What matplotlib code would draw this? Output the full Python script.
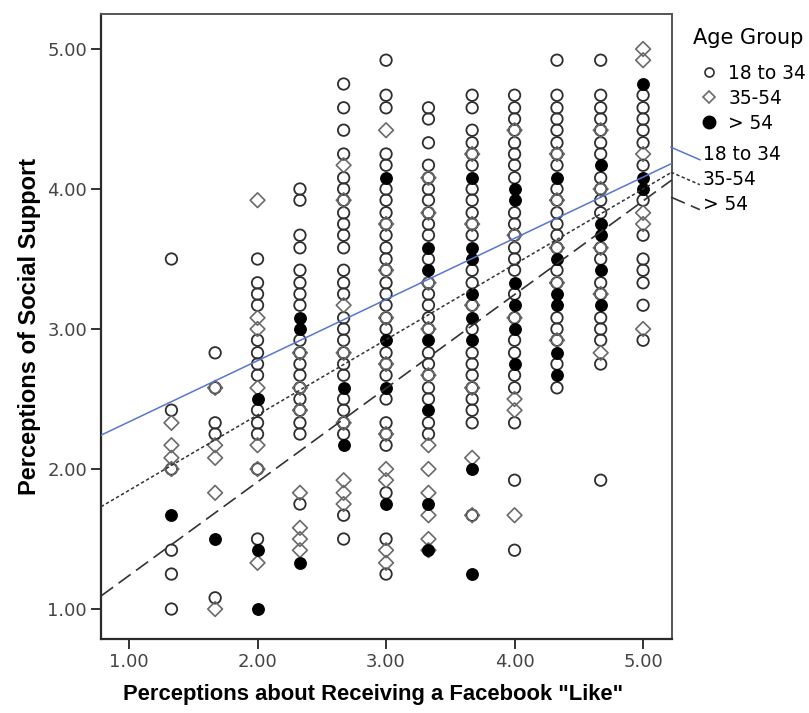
import matplotlib
matplotlib.use("Agg")
import matplotlib.pyplot as plt
from matplotlib.lines import Line2D
from matplotlib.legend_handler import HandlerLine2D

# scale scores (means of items) for each response level
x_levels = [1.33, 1.67, 2.00, 2.33, 2.67, 3.00, 3.33, 3.67, 4.00, 4.33, 4.67, 5.00]

# social support scores per x level, age 18 to 34
young_y = [
    [3.50, 2.42, 2.00, 1.42, 1.25, 1.00],
    [2.83, 2.58, 2.33, 2.25, 1.08],
    [3.50, 3.33, 3.25, 3.17, 2.92, 2.83, 2.75, 2.67, 2.42, 2.33, 2.25, 2.00, 1.50],
    [4.00, 3.92, 3.67, 3.58, 3.42, 3.33, 3.25, 3.17, 2.92, 2.83, 2.75, 2.67, 2.58,
     2.50, 2.42, 2.33, 2.25, 1.75],
    [4.75, 4.58, 4.42, 4.25, 4.08, 4.00, 3.92, 3.83, 3.75, 3.67, 3.58, 3.42, 3.33,
     3.25, 3.08, 3.00, 2.92, 2.83, 2.75, 2.67, 2.50, 2.42, 2.33, 2.25, 1.67, 1.50],
    [4.92, 4.67, 4.58, 4.25, 4.17, 4.00, 3.92, 3.83, 3.75, 3.67, 3.58, 3.50, 3.42,
     3.33, 3.25, 3.17, 3.08, 3.00, 2.83, 2.75, 2.67, 2.50, 2.33, 2.25, 2.17, 1.83,
     1.50, 1.25],
    [4.58, 4.50, 4.33, 4.17, 4.08, 4.00, 3.92, 3.83, 3.75, 3.67, 3.50, 3.33, 3.25,
     3.17, 3.08, 3.00, 2.83, 2.75, 2.67, 2.58, 2.50, 2.33, 2.25],
    [4.67, 4.58, 4.42, 4.33, 4.25, 4.17, 4.00, 3.92, 3.83, 3.75, 3.67, 3.42, 3.33,
     3.17, 3.00, 2.83, 2.75, 2.67, 2.58, 2.50, 2.42, 2.33, 1.67],
    [4.67, 4.58, 4.50, 4.42, 4.33, 4.25, 4.17, 4.08, 3.83, 3.75, 3.67, 3.58, 3.50,
     3.42, 3.25, 3.08, 2.92, 2.83, 2.67, 2.58, 2.33, 1.92, 1.42],
    [4.92, 4.67, 4.58, 4.50, 4.42, 4.33, 4.25, 4.17, 4.00, 3.92, 3.83, 3.75, 3.67,
     3.58, 3.42, 3.33, 3.08, 3.00, 2.92, 2.75, 2.58],
    [4.92, 4.67, 4.58, 4.50, 4.42, 4.33, 4.25, 4.08, 4.00, 3.92, 3.83, 3.58, 3.50,
     3.33, 3.25, 3.08, 3.00, 2.92, 2.75, 1.92],
    [4.67, 4.58, 4.50, 4.42, 4.33, 4.17, 3.92, 3.67, 3.50, 3.42, 3.33, 3.17, 2.92],
]

# age 35-54
middle_y = [
    [2.33, 2.17, 2.08, 2.00],
    [2.58, 2.17, 2.08, 1.83, 1.00],
    [3.92, 3.08, 3.00, 2.58, 2.17, 2.00, 1.33],
    [2.83, 2.58, 2.42, 1.83, 1.58, 1.50, 1.42],
    [4.17, 3.92, 3.17, 2.83, 2.33, 1.92, 1.83, 1.75],
    [4.42, 3.75, 3.42, 3.08, 2.75, 2.25, 2.00, 1.92, 1.42, 1.33],
    [4.08, 3.83, 3.33, 3.00, 2.67, 2.17, 2.00, 1.83, 1.67, 1.50, 1.42],
    [4.25, 3.75, 3.17, 2.58, 2.08, 1.67],
    [4.42, 3.67, 3.08, 2.50, 2.42, 1.67],
    [4.25, 3.92, 3.58, 3.33, 2.92],
    [4.42, 4.00, 3.58, 3.25, 2.83],
    [5.00, 4.92, 4.25, 3.83, 3.75, 3.00],
]

# age over 54
older_y = [
    [1.67],
    [1.50],
    [2.50, 1.42, 1.00],
    [3.08, 3.00, 1.33],
    [2.58, 2.17],
    [4.08, 2.92, 2.58, 1.75],
    [3.58, 3.42, 2.92, 2.42, 1.75, 1.42],
    [4.08, 3.58, 3.50, 3.25, 3.08, 2.92, 2.00, 1.25],
    [4.00, 3.92, 3.33, 3.17, 3.00, 2.75],
    [4.08, 3.50, 3.25, 3.17, 2.83, 2.67],
    [4.17, 3.75, 3.67, 3.42, 3.17],
    [4.75, 4.08, 4.00],
]

# linear fit per group: intercept, slope
fit_intercept = [1.90, 1.31, 0.57]
fit_slope = [0.437, 0.538, 0.669]

group_labels = ["18 to 34", "35-54", "> 54"]


def flatten(cols):
    xs, ys = [], []
    for xv, col in zip(x_levels, cols):
        xs += [xv] * len(col)
        ys += col
    return xs, ys


class SlantHandler(HandlerLine2D):
    # legend line drawn as a short falling diagonal
    def create_artists(self, legend, orig_handle, xdescent, ydescent,
                       width, height, fontsize, trans):
        mid = height / 2 - ydescent
        line = Line2D([-xdescent, -xdescent + width], [mid + 4.5, mid - 4.5])
        self.update_prop(line, orig_handle, legend)
        line.set_transform(trans)
        return [line]


W, H = 809, 713
fig = plt.figure(figsize=(W / 100, H / 100), dpi=100)
ax = fig.add_axes([101 / W, 1 - 639 / H, 571 / W, 625 / H])

xy = flatten(young_y)
ax.scatter(*xy, s=68, marker="o", facecolors="none", edgecolors="#2e2e2e",
           linewidths=1.3, zorder=3)
xy = flatten(middle_y)
ax.scatter(*xy, s=56, marker="D", facecolors="none", edgecolors="#6a6a6a",
           linewidths=1.2, zorder=3)
xy = flatten(older_y)
ax.scatter(*xy, s=68, marker="o", facecolors="black", edgecolors="black",
           linewidths=1.0, zorder=4)

line_styles = [
    dict(color="#5876cc", lw=1.1, ls="-"),
    dict(color="#333333", lw=1.1, ls=(0, (2.2, 1.6))),
    dict(color="#333333", lw=1.2, ls=(0, (9, 4))),
]
for b, m, st in zip(fit_intercept, fit_slope, line_styles):
    ax.axline((0, b), slope=m, zorder=5, **st)

ax.set_xlim(0.782, 5.225)
ax.set_ylim(0.786, 5.25)
ax.set_xticks([1, 2, 3, 4, 5])
ax.set_yticks([1, 2, 3, 4, 5])
ax.set_xticklabels(["1.00", "2.00", "3.00", "4.00", "5.00"])
ax.set_yticklabels(["1.00", "2.00", "3.00", "4.00", "5.00"])
ax.tick_params(length=7, width=1.4, color="#333333", labelsize=13,
               labelcolor="#444444", pad=3)
for side in ["left", "bottom"]:
    ax.spines[side].set_linewidth(1.6)
    ax.spines[side].set_color("#2a2a2a")
for side in ["top", "right"]:
    ax.spines[side].set_linewidth(1.4)
    ax.spines[side].set_color("#555555")

ax.set_xlabel('Perceptions about Receiving a Facebook "Like"',
              family="Liberation Sans", weight="bold", size=15.8)
ax.xaxis.set_label_coords(0.477, -0.072)
ax.set_ylabel("Perceptions of Social Support",
              family="Liberation Sans", weight="bold", size=17)
ax.yaxis.set_label_coords(-0.105, 0.50)

# legend: title, marker entries, then fit lines slightly to the left
leg_font = dict(family="DejaVu Sans", size=13.4)
fig.text(693 / W, 1 - 38 / H, "Age Group", family="DejaVu Sans", size=15,
         ha="left", va="center")

marker_handles = [
    Line2D([], [], ls="none", marker="o", ms=6.5, mfc="none", mec="#2e2e2e", mew=1.2),
    Line2D([], [], ls="none", marker="D", ms=6.5, mfc="none", mec="#6a6a6a", mew=1.2),
    Line2D([], [], ls="none", marker="o", ms=9, mfc="black", mec="black"),
]
line_handles = [Line2D([], [], **st) for st in line_styles]

leg1 = fig.legend(marker_handles, group_labels,
                  loc="upper left", bbox_to_anchor=(693 / W, 1 - 64 / H),
                  frameon=False, prop=leg_font,
                  handlelength=1.7, handletextpad=0.2, labelspacing=0.32,
                  borderpad=0, borderaxespad=0)
leg2 = fig.legend(line_handles, group_labels,
                  loc="upper left", bbox_to_anchor=(671 / W, 1 - 145 / H),
                  frameon=False, prop=leg_font,
                  handlelength=1.55, handletextpad=0.15, labelspacing=0.32,
                  borderpad=0, borderaxespad=0,
                  handler_map={h: SlantHandler() for h in line_handles})

fig.savefig("out.png", dpi=100)
